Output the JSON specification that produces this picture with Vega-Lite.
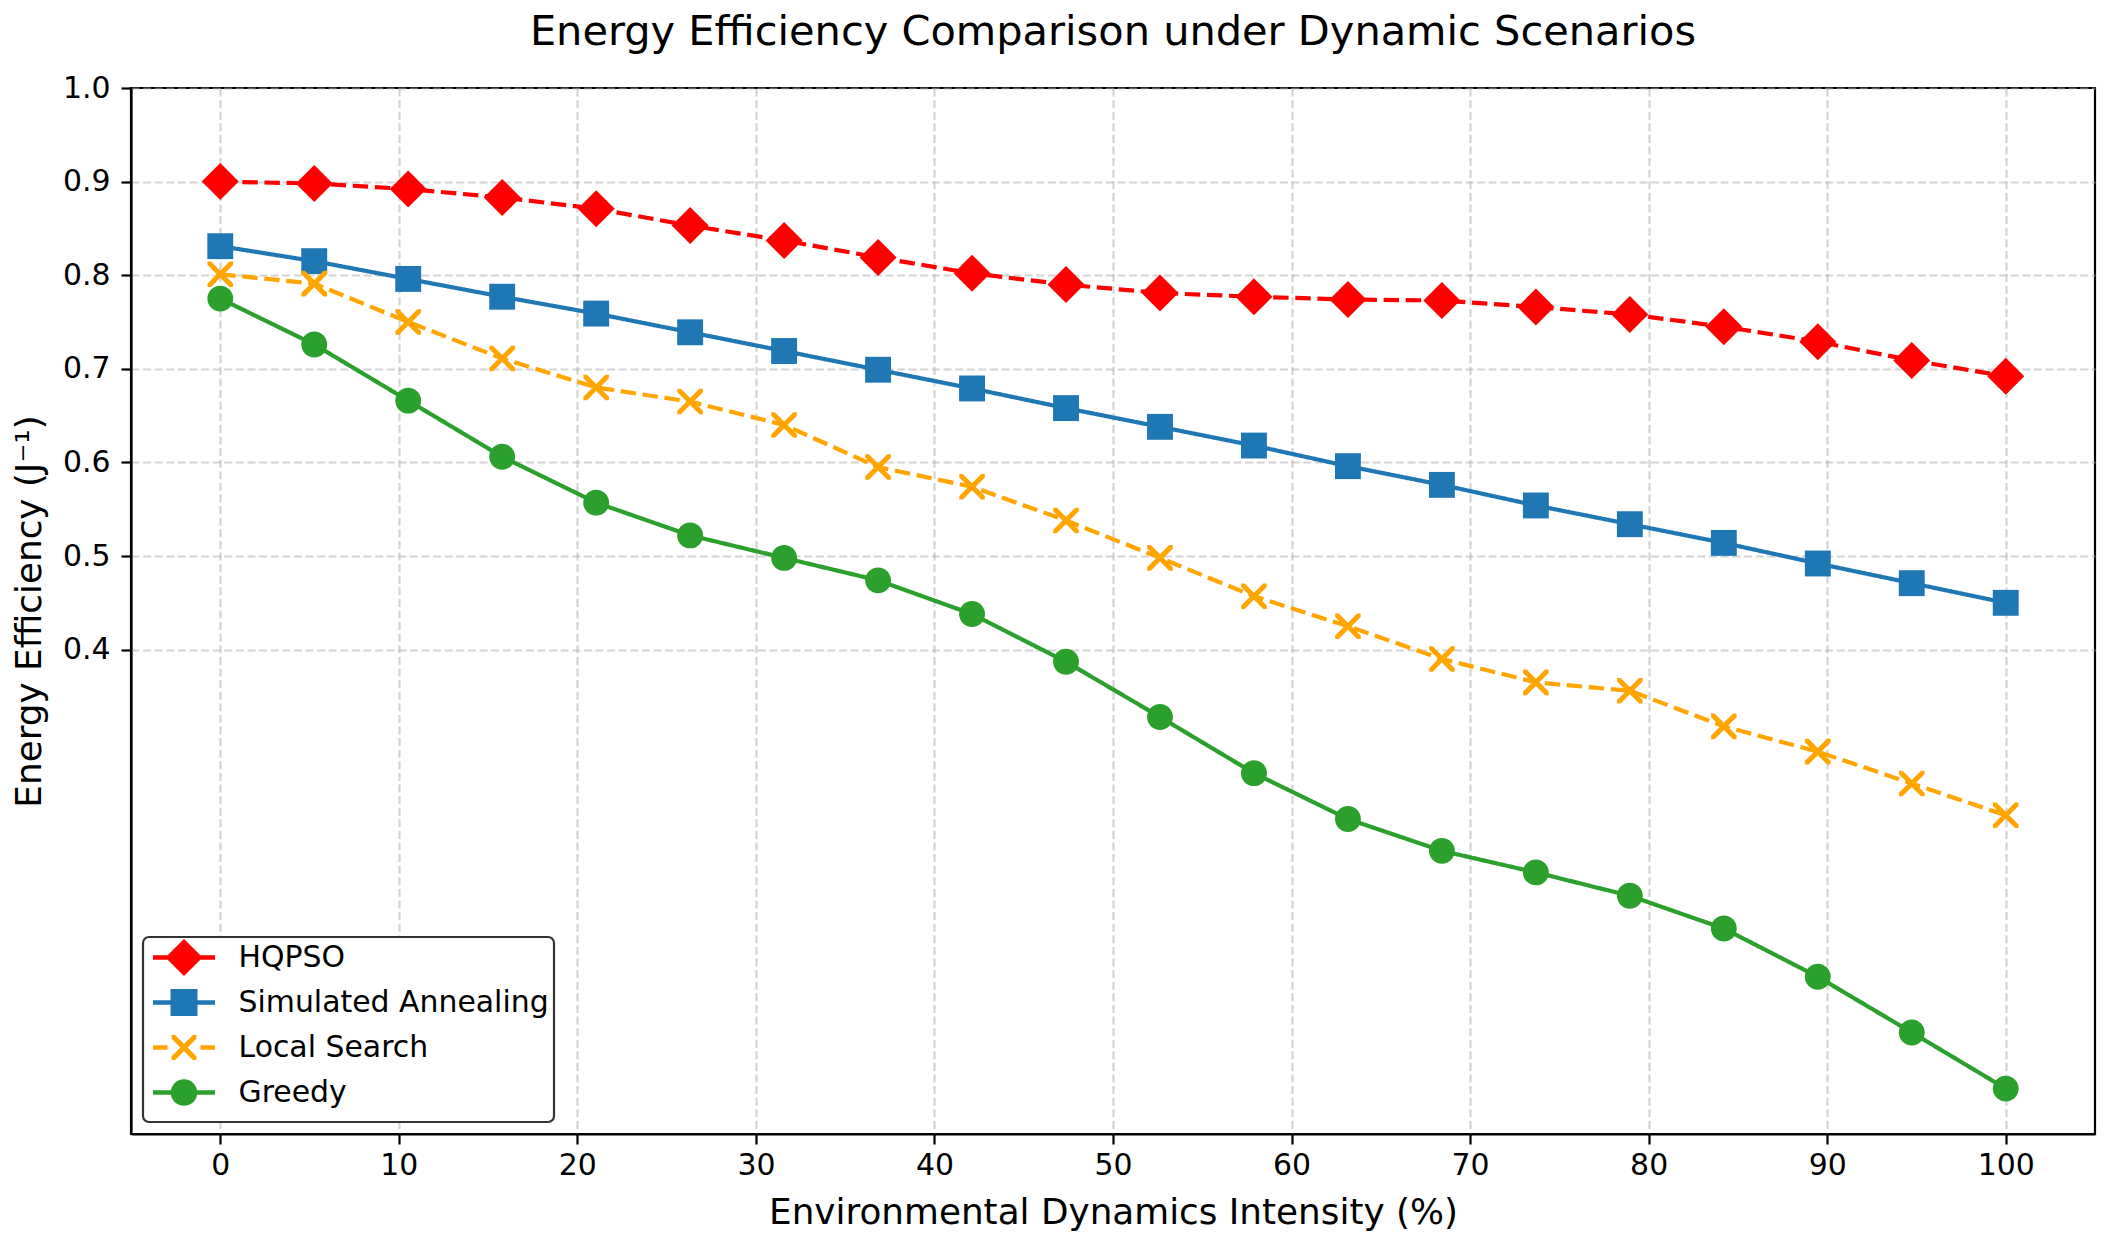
{
  "$schema": "https://vega.github.io/schema/vega-lite/v6.json",
  "autosize": {"type": "none"},
  "width": 1964,
  "height": 1046,
  "padding": {"left": 131, "top": 88, "right": 13, "bottom": 108},
  "background": "white",
  "title": {
    "text": "Energy Efficiency Comparison under Dynamic Scenarios",
    "fontSize": 41.5,
    "font": "DejaVu Sans",
    "fontWeight": "normal",
    "color": "black",
    "anchor": "middle",
    "baseline": "alphabetic",
    "offset": -13
  },
  "config": {
    "font": "DejaVu Sans",
    "view": {"stroke": "black", "strokeWidth": 2.2},
    "axis": {
      "labelFont": "DejaVu Sans",
      "titleFont": "DejaVu Sans",
      "labelFontSize": 29.9,
      "titleFontSize": 35.8,
      "titleFontWeight": "normal",
      "labelColor": "black",
      "titleColor": "black",
      "domainColor": "black",
      "domainWidth": 2.2,
      "tickColor": "black",
      "tickWidth": 2.2,
      "tickSize": 10,
      "grid": true,
      "gridColor": "#b0b0b0",
      "gridOpacity": 0.55,
      "gridWidth": 2.2,
      "gridDash": [8, 3.6]
    },
    "legend": {"strokeWidth": 2.2}
  },
  "data": {
    "values": [
      {"series": "HQPSO", "x": 0, "y": 0.900},
      {"series": "HQPSO", "x": 5.263, "y": 0.898},
      {"series": "HQPSO", "x": 10.526, "y": 0.892},
      {"series": "HQPSO", "x": 15.789, "y": 0.883},
      {"series": "HQPSO", "x": 21.053, "y": 0.871},
      {"series": "HQPSO", "x": 26.316, "y": 0.853},
      {"series": "HQPSO", "x": 31.579, "y": 0.837},
      {"series": "HQPSO", "x": 36.842, "y": 0.819},
      {"series": "HQPSO", "x": 42.105, "y": 0.802},
      {"series": "HQPSO", "x": 47.368, "y": 0.790},
      {"series": "HQPSO", "x": 52.632, "y": 0.781},
      {"series": "HQPSO", "x": 57.895, "y": 0.777},
      {"series": "HQPSO", "x": 63.158, "y": 0.774},
      {"series": "HQPSO", "x": 68.421, "y": 0.773},
      {"series": "HQPSO", "x": 73.684, "y": 0.766},
      {"series": "HQPSO", "x": 78.947, "y": 0.758},
      {"series": "HQPSO", "x": 84.211, "y": 0.745},
      {"series": "HQPSO", "x": 89.474, "y": 0.729},
      {"series": "HQPSO", "x": 94.737, "y": 0.709},
      {"series": "HQPSO", "x": 100, "y": 0.692},
      {"series": "Simulated Annealing", "x": 0, "y": 0.831},
      {"series": "Simulated Annealing", "x": 5.263, "y": 0.815},
      {"series": "Simulated Annealing", "x": 10.526, "y": 0.796},
      {"series": "Simulated Annealing", "x": 15.789, "y": 0.777},
      {"series": "Simulated Annealing", "x": 21.053, "y": 0.759},
      {"series": "Simulated Annealing", "x": 26.316, "y": 0.739},
      {"series": "Simulated Annealing", "x": 31.579, "y": 0.719},
      {"series": "Simulated Annealing", "x": 36.842, "y": 0.699},
      {"series": "Simulated Annealing", "x": 42.105, "y": 0.679},
      {"series": "Simulated Annealing", "x": 47.368, "y": 0.658},
      {"series": "Simulated Annealing", "x": 52.632, "y": 0.638},
      {"series": "Simulated Annealing", "x": 57.895, "y": 0.618},
      {"series": "Simulated Annealing", "x": 63.158, "y": 0.596},
      {"series": "Simulated Annealing", "x": 68.421, "y": 0.576},
      {"series": "Simulated Annealing", "x": 73.684, "y": 0.554},
      {"series": "Simulated Annealing", "x": 78.947, "y": 0.534},
      {"series": "Simulated Annealing", "x": 84.211, "y": 0.514},
      {"series": "Simulated Annealing", "x": 89.474, "y": 0.492},
      {"series": "Simulated Annealing", "x": 94.737, "y": 0.471},
      {"series": "Simulated Annealing", "x": 100, "y": 0.450},
      {"series": "Local Search", "x": 0, "y": 0.801},
      {"series": "Local Search", "x": 5.263, "y": 0.791},
      {"series": "Local Search", "x": 10.526, "y": 0.750},
      {"series": "Local Search", "x": 15.789, "y": 0.711},
      {"series": "Local Search", "x": 21.053, "y": 0.680},
      {"series": "Local Search", "x": 26.316, "y": 0.665},
      {"series": "Local Search", "x": 31.579, "y": 0.640},
      {"series": "Local Search", "x": 36.842, "y": 0.595},
      {"series": "Local Search", "x": 42.105, "y": 0.574},
      {"series": "Local Search", "x": 47.368, "y": 0.538},
      {"series": "Local Search", "x": 52.632, "y": 0.498},
      {"series": "Local Search", "x": 57.895, "y": 0.457},
      {"series": "Local Search", "x": 63.158, "y": 0.425},
      {"series": "Local Search", "x": 68.421, "y": 0.390},
      {"series": "Local Search", "x": 73.684, "y": 0.365},
      {"series": "Local Search", "x": 78.947, "y": 0.356},
      {"series": "Local Search", "x": 84.211, "y": 0.318},
      {"series": "Local Search", "x": 89.474, "y": 0.291},
      {"series": "Local Search", "x": 94.737, "y": 0.257},
      {"series": "Local Search", "x": 100, "y": 0.223},
      {"series": "Greedy", "x": 0, "y": 0.775},
      {"series": "Greedy", "x": 5.263, "y": 0.726},
      {"series": "Greedy", "x": 10.526, "y": 0.666},
      {"series": "Greedy", "x": 15.789, "y": 0.606},
      {"series": "Greedy", "x": 21.053, "y": 0.557},
      {"series": "Greedy", "x": 26.316, "y": 0.522},
      {"series": "Greedy", "x": 31.579, "y": 0.498},
      {"series": "Greedy", "x": 36.842, "y": 0.474},
      {"series": "Greedy", "x": 42.105, "y": 0.438},
      {"series": "Greedy", "x": 47.368, "y": 0.387},
      {"series": "Greedy", "x": 52.632, "y": 0.328},
      {"series": "Greedy", "x": 57.895, "y": 0.268},
      {"series": "Greedy", "x": 63.158, "y": 0.219},
      {"series": "Greedy", "x": 68.421, "y": 0.185},
      {"series": "Greedy", "x": 73.684, "y": 0.162},
      {"series": "Greedy", "x": 78.947, "y": 0.137},
      {"series": "Greedy", "x": 84.211, "y": 0.102},
      {"series": "Greedy", "x": 89.474, "y": 0.0505},
      {"series": "Greedy", "x": 94.737, "y": -0.009},
      {"series": "Greedy", "x": 100, "y": -0.069}
    ]
  },
  "encoding": {
    "x": {
      "field": "x",
      "type": "quantitative",
      "scale": {"domain": [-5, 105], "nice": false, "zero": false},
      "axis": {
        "values": [0, 10, 20, 30, 40, 50, 60, 70, 80, 90, 100],
        "title": "Environmental Dynamics Intensity (%)",
        "labelPadding": 6,
        "titlePadding": 16,
        "labelFlush": false
      }
    },
    "y": {
      "field": "y",
      "type": "quantitative",
      "scale": {"domain": [-0.1175, 1.0], "nice": false, "zero": false},
      "axis": {
        "values": [0.4, 0.5, 0.6, 0.7, 0.8, 0.9, 1.0],
        "format": ".1f",
        "title": "Energy Efficiency (J⁻¹)",
        "labelPadding": 11,
        "titlePadding": 14,
        "labelFlush": false
      }
    }
  },
  "layer": [
    {
      "mark": {"type": "line", "strokeWidth": 4.2},
      "encoding": {
        "color": {
          "field": "series",
          "type": "nominal",
          "scale": {
            "domain": ["HQPSO", "Simulated Annealing", "Local Search", "Greedy"],
            "range": ["#ff0000", "#1f77b4", "#ffa500", "#2ca02c"]
          },
          "legend": null
        },
        "strokeDash": {
          "field": "series",
          "type": "nominal",
          "scale": {
            "domain": ["HQPSO", "Simulated Annealing", "Local Search", "Greedy"],
            "range": [[15.4, 6.7], [1, 0], [15.4, 6.7], [1, 0]]
          },
          "legend": null
        }
      }
    },
    {
      "mark": {"type": "point", "filled": true, "size": 1369, "opacity": 1, "strokeWidth": 0},
      "encoding": {
        "color": {
          "field": "series",
          "type": "nominal",
          "scale": {
            "domain": ["HQPSO", "Simulated Annealing", "Local Search", "Greedy"],
            "range": ["#ff0000", "#1f77b4", "#ffa500", "#2ca02c"]
          },
          "legend": null
        },
        "shape": {
          "field": "series",
          "type": "nominal",
          "scale": {
            "domain": ["HQPSO", "Simulated Annealing", "Local Search", "Greedy"],
            "range": [
              "M-1,0L0,-1L1,0L0,1Z",
              "M-0.7,-0.7L0.7,-0.7L0.7,0.7L-0.7,0.7Z",
              "M0,-0.191L0.499,-0.69L0.69,-0.69L0.69,-0.499L0.191,0L0.69,0.499L0.69,0.69L0.499,0.69L0,0.191L-0.499,0.69L-0.69,0.69L-0.69,0.499L-0.191,0L-0.69,-0.499L-0.69,-0.69L-0.499,-0.69Z",
              "M-0.7,0A0.7,0.7 0 1,1 0.7,0A0.7,0.7 0 1,1 -0.7,0Z"
            ]
          },
          "legend": null
        }
      }
    },
    {
      "transform": [{"filter": "false"}],
      "mark": {"type": "point", "filled": true, "opacity": 1, "strokeWidth": 0},
      "encoding": {
        "color": {
          "field": "series",
          "type": "nominal",
          "scale": {
            "domain": ["HQPSO", "Simulated Annealing", "Local Search", "Greedy"],
            "range": ["#ff0000", "#1f77b4", "#ffa500", "#2ca02c"]
          },
          "legend": {
            "title": null,
            "orient": "bottom-left",
            "offset": 12,
            "padding": 5,
            "fillColor": "white",
            "strokeColor": "#333333",
            "cornerRadius": 6,
            "labelFont": "DejaVu Sans",
            "labelFontSize": 29.9,
            "labelColor": "black",
            "labelOffset": 39,
            "symbolOffset": 20.5,
            "symbolSize": 961,
            "symbolStrokeWidth": 0,
            "symbolOpacity": 1,
            "rowPadding": 1,
            "labelLimit": 600
          }
        },
        "shape": {
          "field": "series",
          "type": "nominal",
          "scale": {
            "domain": ["HQPSO", "Simulated Annealing", "Local Search", "Greedy"],
            "range": [
              "M0,-1.2L0,-1.2Z M0,1.55L0,1.55Z M-2,-0.14L2,-0.14L2,0.14L-2,0.14Z M-1.2,0L0,-1.2L1.2,0L0,1.2Z",
              "M0,-1.2L0,-1.2Z M0,1.55L0,1.55Z M-2,-0.14L2,-0.14L2,0.14L-2,0.14Z M-0.87,-0.87L0.87,-0.87L0.87,0.87L-0.87,0.87Z",
              "M0,-1.2L0,-1.2Z M0,1.55L0,1.55Z M-2,-0.14L-1.06,-0.14L-1.06,0.14L-2,0.14Z M1.06,-0.14L2,-0.14L2,0.14L1.06,0.14Z M0,-0.228L0.572,-0.8L0.8,-0.8L0.8,-0.572L0.228,0L0.8,0.572L0.8,0.8L0.572,0.8L0,0.228L-0.572,0.8L-0.8,0.8L-0.8,0.572L-0.228,0L-0.8,-0.572L-0.8,-0.8L-0.572,-0.8Z",
              "M0,-1.2L0,-1.2Z M0,1.55L0,1.55Z M-2,-0.14L2,-0.14L2,0.14L-2,0.14Z M-0.86,0A0.86,0.86 0 1,1 0.86,0A0.86,0.86 0 1,1 -0.86,0Z"
            ]
          },
          "legend": {
            "title": null,
            "orient": "bottom-left",
            "offset": 12,
            "padding": 5,
            "fillColor": "white",
            "strokeColor": "#333333",
            "cornerRadius": 6,
            "labelFont": "DejaVu Sans",
            "labelFontSize": 29.9,
            "labelColor": "black",
            "labelOffset": 39,
            "symbolOffset": 20.5,
            "symbolSize": 961,
            "symbolStrokeWidth": 0,
            "symbolOpacity": 1,
            "rowPadding": 1,
            "labelLimit": 600
          }
        }
      }
    }
  ],
  "resolve": {"scale": {"color": "independent", "shape": "independent", "strokeDash": "independent"}}
}
